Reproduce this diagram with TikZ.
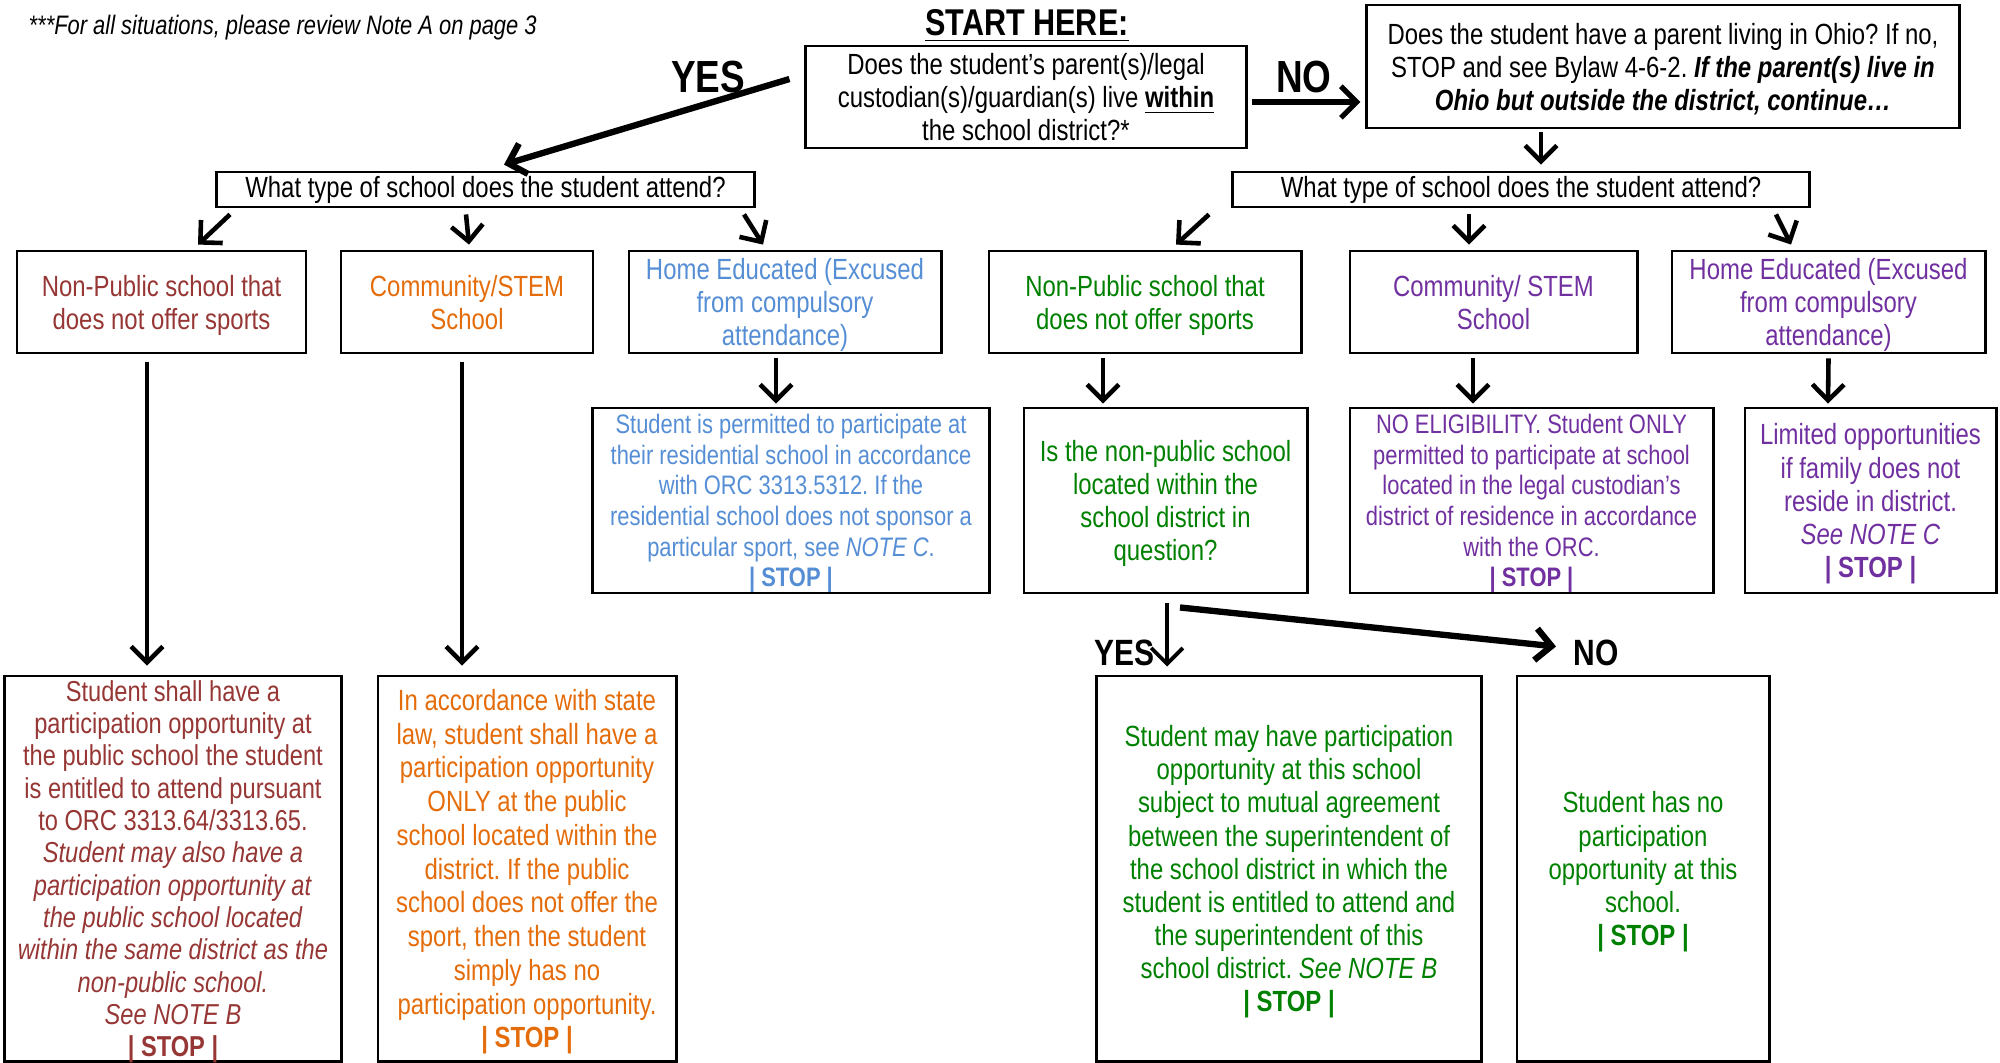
\documentclass[tikz,border=0pt]{standalone}
\usepackage{fontspec}
\setmainfont[FakeStretch=0.82]{Liberation Sans}
\usetikzlibrary{arrows.meta}
\frenchspacing

\definecolor{npred}{RGB}{150,55,53}
\definecolor{commorange}{RGB}{228,108,10}
\definecolor{homeblue}{RGB}{85,142,213}
\definecolor{resgreen}{RGB}{0,128,0}
\definecolor{respurple}{RGB}{112,48,160}

% same depth for every last line
\newcommand{\boxstrut}{\rule[-1.8pt]{0pt}{1pt}}

\tikzset{
  typebox/.style={draw=black,line width=0.8pt,align=center,inner sep=0.5pt,
    font=\fontsize{8.3}{9.4}\selectfont},
  box/.style={typebox,text depth=-1pt},
  smallbox/.style={box,font=\fontsize{7.6}{8.7}\selectfont},
  arr/.style={line width=1.3pt,-{Straight Barb[length=4.5pt,width=9pt]}},
  bigword/.style={font=\fontsize{12.8}{14}\selectfont\bfseries},
  midword/.style={font=\fontsize{10.4}{12}\selectfont\bfseries},
}

\begin{document}
\begin{tikzpicture}[x=0.01cm,y=-0.01cm]
\useasboundingbox (0,0) rectangle (2000,1062);

% heading and first question
\node[anchor=west,inner sep=0pt,font=\fontsize{7.6}{9}\selectfont\itshape] (noteA) at (28,28) {***For all situations, please review Note A on page 3};
\node[font=\fontsize{10.6}{12}\selectfont\bfseries] (starthere) at (1027,26) {\underline{START HERE:}};
\node[box,minimum width=4.4cm,minimum height=1.02cm] (start) at (1026,97)
  {Does the student’s parent(s)/legal\\custodian(s)/guardian(s) live \textbf{\underline{within}}\\the school district?*\boxstrut};
\node[box,minimum width=5.92cm,minimum height=1.23cm] (ohio) at (1663,66.5)
  {Does the student have a parent living in Ohio? If no,\\STOP and see Bylaw 4-6-2. \textbf{\textit{If the parent(s) live in}}\\\textbf{\textit{Ohio but outside the district, continue…}}\boxstrut};
\node[bigword] (yesTop) at (708,77) {YES};
\node[bigword] (noTop) at (1304,77) {NO};

% type of school
\node[typebox,minimum width=5.37cm,minimum height=0.35cm] (typeL) at (485.5,189.5) {What type of school does the student attend?};
\node[typebox,minimum width=5.76cm,minimum height=0.35cm] (typeR) at (1521,189.5) {What type of school does the student attend?};

% row 1
\node[box,text=npred,minimum width=2.89cm,minimum height=1.02cm] (npL) at (161.5,302) {Non-Public school that\\does not offer sports\boxstrut};
\node[box,text=commorange,minimum width=2.52cm,minimum height=1.02cm] (commL) at (467,302) {Community/STEM\\School\boxstrut};
\node[box,text=homeblue,minimum width=3.12cm,minimum height=1.02cm] (homeL) at (785,302) {Home Educated (Excused\\from compulsory\\attendance)\boxstrut};
\node[box,text=resgreen,minimum width=3.12cm,minimum height=1.02cm] (npR) at (1145,302) {Non-Public school that\\does not offer sports\boxstrut};
\node[box,text=respurple,minimum width=2.87cm,minimum height=1.02cm] (commR) at (1493.5,302) {Community/ STEM\\School\boxstrut};
\node[box,text=respurple,minimum width=3.13cm,minimum height=1.02cm] (homeR) at (1828.5,302) {Home Educated (Excused\\from compulsory\\attendance)\boxstrut};

% row 2
\node[smallbox,text=homeblue,minimum width=3.96cm,minimum height=1.85cm] (homeLres) at (791,500.5)
  {Student is permitted to participate at\\their residential school in accordance\\with ORC 3313.5312. If the\\residential school does not sponsor a\\particular sport, see \textit{NOTE C}.\\\textbf{| STOP |}\boxstrut};
\node[box,text=resgreen,minimum width=2.83cm,minimum height=1.85cm] (npRq) at (1165.5,500.5)
  {Is the non-public school\\located within the\\school district in\\question?\boxstrut};
\node[smallbox,text=respurple,minimum width=3.63cm,minimum height=1.85cm] (commRres) at (1531.5,500.5)
  {NO ELIGIBILITY. Student ONLY\\permitted to participate at school\\located in the legal custodian’s\\district of residence in accordance\\with the ORC.\\\textbf{| STOP |}\boxstrut};
\node[box,text=respurple,minimum width=2.51cm,minimum height=1.85cm] (homeRres) at (1870.5,500.5)
  {Limited opportunities\\if family does not\\reside in district.\\\textit{See NOTE C}\\\textbf{| STOP |}\boxstrut};

% bottom row
\node[box,text=npred,font=\fontsize{8.2}{9.2}\selectfont,minimum width=3.36cm,minimum height=3.85cm] (npLres) at (173,868.5)
  {Student shall have a\\participation opportunity at\\the public school the student\\is entitled to attend pursuant\\to ORC 3313.64/3313.65.\\\textit{Student may also have a}\\\textit{participation opportunity at}\\\textit{the public school located}\\\textit{within the same district as the}\\\textit{non-public school.}\\\textit{See NOTE B}\\\textbf{| STOP |}\boxstrut};
\node[box,text=commorange,font=\fontsize{8.3}{9.6}\selectfont,minimum width=2.98cm,minimum height=3.85cm] (commLres) at (527,868.5)
  {In accordance with state\\law, student shall have a\\participation opportunity\\ONLY at the public\\school located within the\\district. If the public\\school does not offer the\\sport, then the student\\simply has no\\participation opportunity.\\\textbf{| STOP |}\boxstrut};
\node[box,text=resgreen,minimum width=3.84cm,minimum height=3.85cm] (yesres) at (1289,868.5)
  {Student may have participation\\opportunity at this school\\subject to mutual agreement\\between the superintendent of\\the school district in which the\\student is entitled to attend and\\the superintendent of this\\school district. \textit{See NOTE B}\\\textbf{| STOP |}\boxstrut};
\node[box,text=resgreen,minimum width=2.52cm,minimum height=3.85cm] (nores) at (1643,868.5)
  {Student has no\\participation\\opportunity at this\\school.\\\textbf{| STOP |}\boxstrut};
\node[midword] (yesBot) at (1124,653) {YES};
\node[midword] (noBot) at (1596,653) {NO};

% connectors
\draw[arr,line width=1.8pt] ([shift={(-15,-18)}]start.west) -- ([shift={(18.5,-6)}]typeL.north);
\draw[arr,line width=1.5pt] ([shift={(4,5)}]start.east) -- ([shift={(-5,35.5)}]ohio.west);
\draw[arr] ([shift={(-122,3)}]ohio.south) -- ([shift={(20,-6)}]typeR.north);
\draw[arr] ([shift={(-255.5,6)}]typeL.south) -- ([shift={(36.5,-5)}]npL.north);
\draw[arr] ([shift={(-19.5,6)}]typeL.south) -- ([shift={(2,-5)}]commL.north);
\draw[arr] ([shift={(258.5,6)}]typeL.south) -- ([shift={(-22,-5)}]homeL.north);
\draw[arr] ([shift={(-312,6)}]typeR.south) -- ([shift={(31,-5)}]npR.north);
\draw[arr] ([shift={(-52,6)}]typeR.south) -- ([shift={(-24.5,-5)}]commR.north);
\draw[arr] ([shift={(255,6)}]typeR.south) -- ([shift={(-37.5,-5)}]homeR.north);
\draw[arr] ([shift={(-9,4)}]homeL.south) -- ([shift={(-15,-3)}]homeLres.north);
\draw[arr] ([shift={(-42,4)}]npR.south) -- ([shift={(-62.5,-3)}]npRq.north);
\draw[arr] ([shift={(-20.5,4)}]commR.south) -- ([shift={(-58.5,-3)}]commRres.north);
\draw[arr] ([shift={(0,4)}]homeR.south) -- ([shift={(-42.5,-3)}]homeRres.north);
\draw[arr] ([shift={(-14.5,8)}]npL.south) -- ([shift={(-26,-9)}]npLres.north);
\draw[arr] ([shift={(-5,8)}]commL.south) -- ([shift={(-65,-9)}]commLres.north);
\draw[arr,line width=1.1pt] ([shift={(1.5,9)}]npRq.south) -- ([shift={(-122,-8)}]yesres.north);
\draw[arr,line width=1.8pt] ([shift={(14.5,13)}]npRq.south) -- ([shift={(-87,-28)}]nores.north);
\end{tikzpicture}
\end{document}
